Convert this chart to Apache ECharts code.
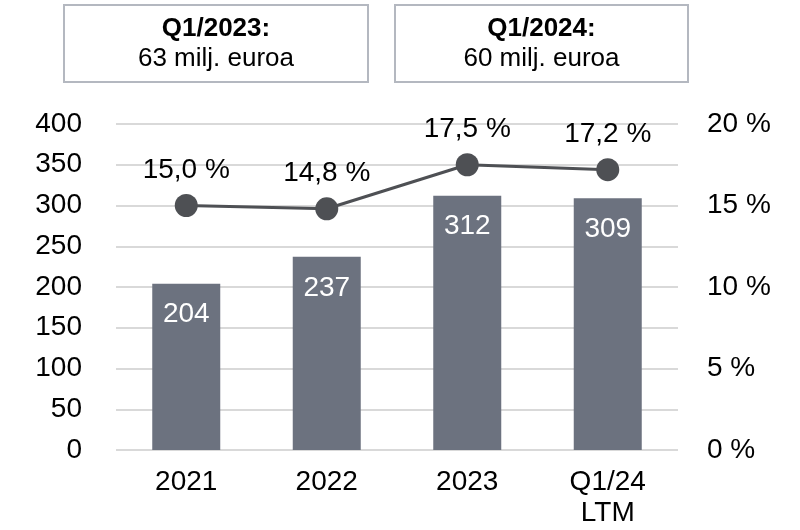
<!DOCTYPE html>
<html>
<head>
<meta charset="utf-8">
<script src="https://cdn.jsdelivr.net/npm/echarts@6/dist/echarts.min.js"></script>
<style>
html,body{margin:0;padding:0;background:#fff;}
#chart{width:800px;height:530px;}
</style>
</head>
<body>
<div id="chart"></div>
<script>
var categories = ['2021', '2022', '2023', 'Q1/24\nLTM'];
var revenue = [204, 237, 312, 309];
var margin = [15.0, 14.8, 17.5, 17.2];
var leftTicks = {min: 0, max: 400, interval: 50};
var rightTicks = {min: 0, max: 20, interval: 5};
var boxTitles = ['Q1/2023:', 'Q1/2024:'];
var boxValues = ['63 milj. euroa', '60 milj. euroa'];

var FONT = '"Liberation Sans", Arial, sans-serif';
var chart = echarts.init(document.getElementById('chart'), null, {renderer: 'canvas'});

function box(x, w, title, val) {
  return {
    type: 'group',
    children: [
      {type: 'rect', shape: {x: x, y: 5, width: w, height: 77},
       style: {fill: '#fff', stroke: '#b4b8c0', lineWidth: 2}},
      {type: 'text', x: x + w / 2, y: 29,
       style: {text: title, fontFamily: FONT, fontSize: 26, fontWeight: 'bold', fill: '#000',
               textAlign: 'center', textVerticalAlign: 'middle'}},
      {type: 'text', x: x + w / 2, y: 59,
       style: {text: val, fontFamily: FONT, fontSize: 26, fill: '#000',
               textAlign: 'center', textVerticalAlign: 'middle'}}
    ]
  };
}

chart.setOption({
  animation: false,
  backgroundColor: '#fff',
  textStyle: {fontFamily: FONT},
  grid: {left: 116, right: 122, top: 124, bottom: 80},
  graphic: [box(64, 304, boxTitles[0], boxValues[0]), box(395, 293, boxTitles[1], boxValues[1])],
  xAxis: {
    type: 'category',
    data: categories,
    axisLine: {show: false},
    axisTick: {show: false},
    axisLabel: {color: '#000', fontSize: 28, fontFamily: FONT, margin: 17, lineHeight: 31}
  },
  yAxis: [
    {
      type: 'value', min: leftTicks.min, max: leftTicks.max, interval: leftTicks.interval,
      axisLine: {show: false}, axisTick: {show: false},
      axisLabel: {color: '#000', fontSize: 28, fontFamily: FONT, margin: 34},
      splitLine: {lineStyle: {color: '#d9d9d9', width: 2}}
    },
    {
      type: 'value', min: rightTicks.min, max: rightTicks.max, interval: rightTicks.interval,
      axisLine: {show: false}, axisTick: {show: false},
      axisLabel: {color: '#000', fontSize: 28, fontFamily: FONT, margin: 29,
        formatter: function (v) { return v + ' %'; }},
      splitLine: {show: false}
    }
  ],
  series: [
    {
      type: 'bar',
      data: revenue,
      yAxisIndex: 0,
      barWidth: 68,
      itemStyle: {color: '#6c727f'},
      label: {show: true, position: 'insideTop', distance: 17, color: '#fff',
              fontSize: 28, fontFamily: FONT}
    },
    {
      type: 'line',
      data: margin,
      yAxisIndex: 1,
      symbol: 'circle',
      symbolSize: 23,
      lineStyle: {color: '#4e5054', width: 3},
      itemStyle: {color: '#4e5054'},
      label: {show: true, position: 'top', distance: 10, color: '#000',
              fontSize: 28, fontFamily: FONT,
              formatter: function (p) { return p.value.toFixed(1).replace('.', ',') + ' %'; }}
    }
  ]
});
</script>
</body>
</html>
